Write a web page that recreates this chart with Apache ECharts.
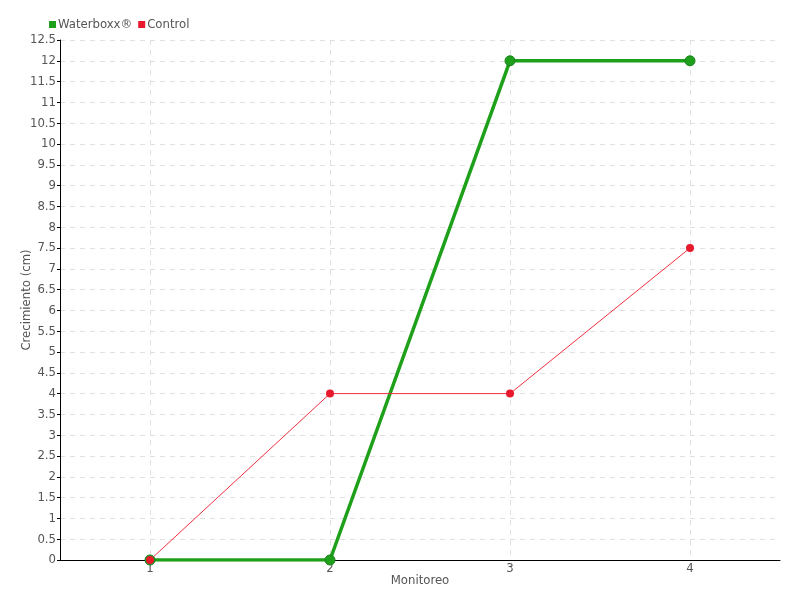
<!DOCTYPE html>
<html><head><meta charset="utf-8">
<script src="https://cdn.jsdelivr.net/npm/echarts@6/dist/echarts.min.js"></script>
<style>html,body{margin:0;padding:0;background:#fff}#c{width:800px;height:600px}</style>
</head><body><div id="c"></div>
<script>
const categories = ['1', '2', '3', '4'];
const waterboxx = [0, 0, 12, 12];
const control = [0, 4, 4, 7.5];
const FONT = 'DejaVu Sans Condensed';
const chart = echarts.init(document.getElementById('c'));
chart.setOption({
  animation: false,
  textStyle: { fontFamily: FONT },
  legend: {
    left: 44, top: 13, itemWidth: 7, itemHeight: 7, itemGap: 6,
    icon: 'rect',
    itemStyle: { borderWidth: 0 },
    textStyle: { color: '#555', fontSize: 13, fontFamily: FONT, padding: [0, 0, 0, -3] },
    data: ['Waterboxx®', 'Control']
  },
  grid: { left: 60, right: 20, top: 40, bottom: 40 },
  xAxis: {
    type: 'category', data: categories, boundaryGap: true,
    name: 'Monitoreo', nameLocation: 'middle', nameGap: 14, nameMoveOverlap: false,
    nameTextStyle: { color: '#555', fontSize: 13, fontFamily: FONT },
    axisLine: { lineStyle: { color: '#000' } },
    axisTick: { show: false, alignWithLabel: true },
    axisLabel: { color: '#555', fontSize: 13, margin: 2, fontFamily: FONT },
    splitLine: { show: true, alignWithLabel: true, lineStyle: { color: '#e0e0e0', type: [5, 5] } }
  },
  yAxis: {
    type: 'value', min: 0, max: 12.5, interval: 0.5,
    name: 'Crecimiento (cm)', nameLocation: 'middle', nameGap: 27, nameMoveOverlap: false,
    nameTextStyle: { color: '#555', fontSize: 13, fontFamily: FONT },
    axisLine: { show: true, lineStyle: { color: '#000' } },
    axisTick: { show: true, length: 3, lineStyle: { color: '#000' } },
    axisLabel: { color: '#555', fontSize: 13, margin: 4, fontFamily: FONT },
    splitLine: { show: true, lineStyle: { color: '#e0e0e0', type: [5, 5] } }
  },
  series: [
    {
      name: 'Waterboxx®', type: 'line', data: waterboxx,
      symbol: 'circle', symbolSize: 10,
      lineStyle: { width: 3.5, color: '#1fa01a' },
      itemStyle: { color: '#1fa01a', borderColor: '#16801a', borderWidth: 1 }
    },
    {
      name: 'Control', type: 'line', data: control,
      symbol: 'circle', symbolSize: 8,
      lineStyle: { width: 1, color: '#f0303f' },
      itemStyle: { color: '#e8192c', borderColor: '#e8192c', borderWidth: 0 }
    }
  ]
});
</script></body></html>
